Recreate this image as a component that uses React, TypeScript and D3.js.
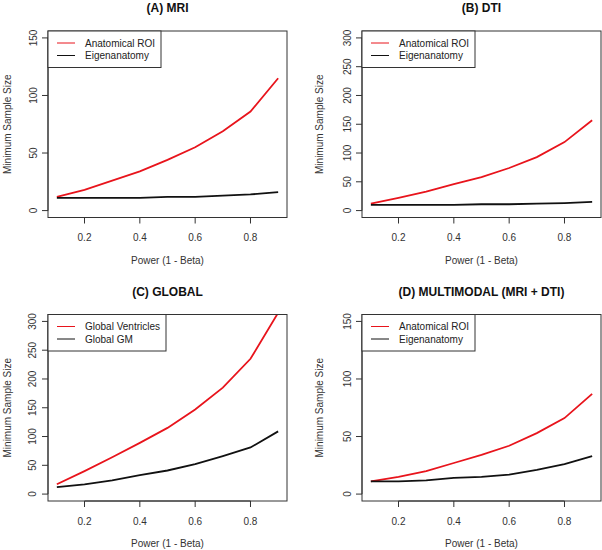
import React from "react";
import * as d3 from "d3";

// Data
const power = [0.1, 0.2, 0.3, 0.4, 0.5, 0.6, 0.7, 0.8, 0.9];
const xTicks = [0.2, 0.4, 0.6, 0.8];

const mriRoi = [12, 18, 26, 34, 44, 55, 69, 86, 115];
const mriEigen = [11, 11, 11, 11, 12, 12, 13, 14, 16];

const dtiRoi = [12, 22, 33, 46, 58, 74, 93, 119, 157];
const dtiEigen = [10, 10, 10, 10, 11, 11, 12, 13, 15];

const globalVent = [17, 40, 64, 89, 115, 147, 185, 235, 315];
const globalGM = [12, 17, 24, 33, 41, 52, 66, 81, 109];

const multiRoi = [11, 15, 20, 27, 34, 42, 53, 66, 87];
const multiEigen = [11, 11, 12, 14, 15, 17, 21, 26, 33];

const ticks150 = [0, 50, 100, 150];
const ticks300 = [0, 50, 100, 150, 200, 250, 300];

const RED = "#e8141c";
const FONT = "'Liberation Sans', Arial, sans-serif";

const panels = [
  {
    id: "a", title: "(A) MRI", left: 48, top: 0, yMax: 150, yTicks: ticks150,
    names: ["Anatomical ROI", "Eigenanatomy"], red: mriRoi, black: mriEigen, legendW: 113,
    yTickX: 37, yLabX: 10.5,
  },
  {
    id: "b", title: "(B) DTI", left: 362, top: 0, yMax: 300, yTicks: ticks300,
    names: ["Anatomical ROI", "Eigenanatomy"], red: dtiRoi, black: dtiEigen, legendW: 113,
    yTickX: 351, yLabX: 323,
  },
  {
    id: "c", title: "(C) GLOBAL", left: 48, top: 283.5, yMax: 300, yTicks: ticks300,
    names: ["Global Ventricles", "Global GM"], red: globalVent, black: globalGM, legendW: 118,
    yTickX: 35.5, yLabX: 10.5,
  },
  {
    id: "d", title: "(D) MULTIMODAL (MRI + DTI)", left: 362, top: 283.5, yMax: 150, yTicks: ticks150,
    names: ["Anatomical ROI", "Eigenanatomy"], red: multiRoi, black: multiEigen, legendW: 113,
    yTickX: 351, yLabX: 323,
  },
];

const boxW = 239;
const boxTop = 31;
const boxH = 186.5;

function Panel({ p }: { p: (typeof panels)[number] }) {
  const x0 = p.left;
  const x1 = p.left + boxW;
  const y0 = p.top + boxTop;
  const y1 = y0 + boxH;
  const pad = p.yMax * 0.04;
  const x = d3.scaleLinear().domain([0.068, 0.932]).range([x0, x1]);
  const y = d3.scaleLinear().domain([-pad, p.yMax + pad]).range([y1, y0]);
  const line = d3.line<number>().x((_, i) => x(power[i])).y((d) => y(d));
  const cx = (x0 + x1) / 2;
  const cy = (y0 + y1) / 2;
  const clipId = "clip-" + p.id;

  return (
    <g>
      <defs>
        <clipPath id={clipId}>
          <rect x={x0} y={y0} width={boxW} height={boxH} />
        </clipPath>
      </defs>
      <text x={cx} y={p.top + 12} textAnchor="middle" fontWeight="bold" fontSize={12} fill="#111">
        {p.title}
      </text>
      <g clipPath={`url(#${clipId})`}>
        <path d={line(p.red) || ""} fill="none" stroke={RED} strokeWidth={1.8} />
        <path d={line(p.black) || ""} fill="none" stroke="#111" strokeWidth={1.8} />
      </g>
      <rect x={x0} y={y0} width={boxW} height={boxH} fill="none" stroke="#333" strokeWidth={1} />

      {/* x axis */}
      <line x1={x(xTicks[0])} x2={x(xTicks[xTicks.length - 1])} y1={y1} y2={y1} stroke="#333" />
      {xTicks.map((t) => (
        <g key={t}>
          <line x1={x(t)} x2={x(t)} y1={y1} y2={y1 + 6} stroke="#333" />
          <text x={x(t)} y={y1 + 23.5} textAnchor="middle" fontSize={10} fill="#333">
            {t.toFixed(1)}
          </text>
        </g>
      ))}
      <text x={cx} y={y1 + 46} textAnchor="middle" fontSize={10} fill="#333">
        Power (1 - Beta)
      </text>

      {/* y axis */}
      <line x1={x0} x2={x0} y1={y(p.yTicks[0])} y2={y(p.yTicks[p.yTicks.length - 1])} stroke="#333" />
      {p.yTicks.map((t) => (
        <g key={t}>
          <line x1={x0 - 6} x2={x0} y1={y(t)} y2={y(t)} stroke="#333" />
          <text
            transform={`translate(${p.yTickX},${y(t)}) rotate(-90)`}
            textAnchor="middle"
            fontSize={10}
            fill="#333"
          >
            {t}
          </text>
        </g>
      ))}
      <text
        transform={`translate(${p.yLabX},${cy}) rotate(-90)`}
        textAnchor="middle"
        fontSize={10}
        fill="#333"
      >
        Minimum Sample Size
      </text>

      {/* legend */}
      <rect x={x0} y={y0} width={p.legendW} height={36.5} fill="#fff" stroke="#333" />
      <line x1={x0 + 9} x2={x0 + 27} y1={y0 + 12} y2={y0 + 12} stroke={RED} />
      <line x1={x0 + 9} x2={x0 + 27} y1={y0 + 24.5} y2={y0 + 24.5} stroke="#111" />
      <text x={x0 + 37} y={y0 + 15.5} fontSize={10} fill="#222">{p.names[0]}</text>
      <text x={x0 + 37} y={y0 + 28} fontSize={10} fill="#222">{p.names[1]}</text>
    </g>
  );
}

export default function App() {
  return (
    <svg
      width={602}
      height={550}
      style={{ position: "absolute", left: 0, top: 0, background: "#fff", fontFamily: FONT }}
    >
      {panels.map((p) => (
        <Panel key={p.id} p={p} />
      ))}
    </svg>
  );
}
